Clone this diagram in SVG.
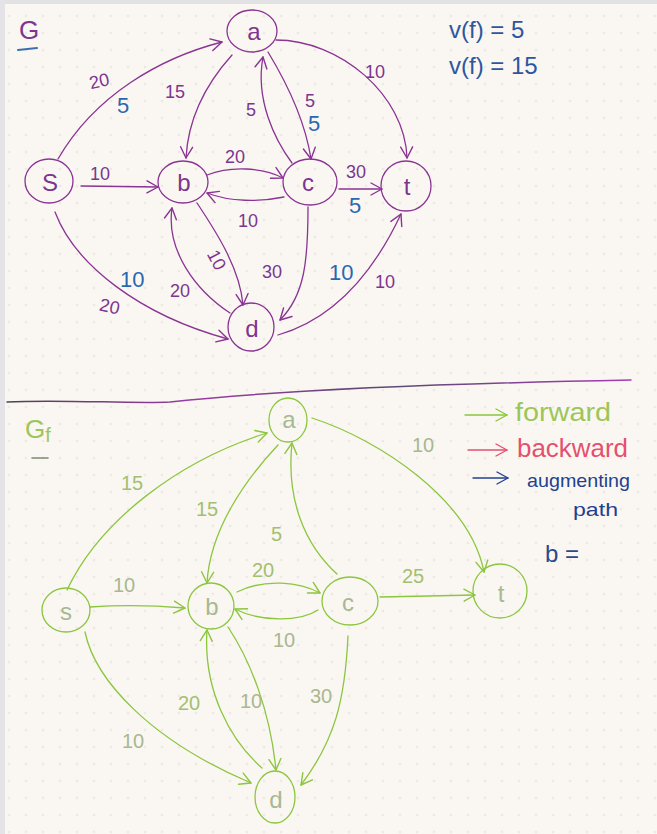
<svg xmlns="http://www.w3.org/2000/svg" width="657" height="834" viewBox="0 0 657 834">
  <defs>
    <pattern id="dots" x="0.5" y="7.5" width="17" height="17" patternUnits="userSpaceOnUse">
      <circle cx="8.5" cy="8.5" r="0.9" fill="#dcd9d4"/>
    </pattern>
    <linearGradient id="rule" x1="0" y1="0" x2="1" y2="0">
      <stop offset="0" stop-color="#4a4450"/>
      <stop offset="0.3" stop-color="#9a3aa6"/>
      <stop offset="0.6" stop-color="#5a4a70"/>
      <stop offset="1" stop-color="#a43ab4"/>
    </linearGradient>
    <marker id="arrP" markerUnits="userSpaceOnUse" markerWidth="16" markerHeight="16" refX="12" refY="7" orient="auto" overflow="visible">
      <path d="M1,1 L12,7 L1,13" fill="none" stroke="#8a3494" stroke-width="1.4" stroke-linecap="round" stroke-linejoin="round"/>
    </marker>
    <marker id="arrG" markerUnits="userSpaceOnUse" markerWidth="16" markerHeight="16" refX="12" refY="7" orient="auto" overflow="visible">
      <path d="M1,1 L12,7 L1,13" fill="none" stroke="#8cc63f" stroke-width="1.4" stroke-linecap="round" stroke-linejoin="round"/>
    </marker>
    <marker id="arrR" markerUnits="userSpaceOnUse" markerWidth="16" markerHeight="16" refX="12" refY="7" orient="auto" overflow="visible">
      <path d="M1,1 L12,7 L1,13" fill="none" stroke="#e4506e" stroke-width="1.4" stroke-linecap="round" stroke-linejoin="round"/>
    </marker>
    <marker id="arrB" markerUnits="userSpaceOnUse" markerWidth="16" markerHeight="16" refX="12" refY="7" orient="auto" overflow="visible">
      <path d="M1,1 L12,7 L1,13" fill="none" stroke="#22418e" stroke-width="1.4" stroke-linecap="round" stroke-linejoin="round"/>
    </marker>
  </defs>
  <style>
    .ink { fill: none; stroke-linecap: round; stroke-linejoin: round; }
    .p { stroke: #8a3494; stroke-width: 1.3; }
    .g { stroke: #8cc63f; stroke-width: 1.3; }
    .pa { marker-end: url(#arrP); }
    .ga { marker-end: url(#arrG); }
    text { font-family: "Liberation Sans", Arial, sans-serif; }
    .nl { font-size: 24px; text-anchor: middle; dominant-baseline: central; }
    .lp { fill: #7d3590; font-size: 18px; }
    .lb { fill: #2a67b0; font-size: 22px; }
    .lg { fill: #a3bf72; font-size: 20px; }
    .np { fill: #7d3590; }
    .ng { fill: #a8b890; }
  </style>

  <!-- paper -->
  <rect x="0" y="0" width="657" height="834" fill="#faf7f2"/>
  <rect x="0" y="0" width="657" height="834" fill="url(#dots)"/>
  <rect x="0" y="0" width="657" height="4" fill="#e2e2e4"/>
  <rect x="0" y="0" width="5" height="834" fill="#e4e4e8"/>

  <!-- flow network G -->
  <text x="19" y="39" fill="#7d3590" font-size="26">G</text>
  <path class="ink" d="M18 50 L37 48" stroke="#3d6fb0" stroke-width="2"/>
  <text x="449" y="38" fill="#2d56a0" font-size="24">v(f) = 5</text>
  <text x="449" y="74" fill="#2d56a0" font-size="24">v(f) = 15</text>

  <g id="connectors-g">
    <path class="ink p pa" d="M58 159 C 95 95, 160 58, 222 42"/>
    <path class="ink p pa" d="M276 40 C 340 40, 405 95, 407 158"/>
    <path class="ink p pa" d="M232 55 C 205 85, 188 120, 186 158"/>
    <path class="ink p pa" d="M268 52 C 285 80, 305 120, 311 159"/>
    <path class="ink p pa" d="M292 163 C 275 140, 255 100, 263 57"/>
    <path class="ink p pa" d="M81 186 L158 187"/>
    <path class="ink p pa" d="M207 175 C 230 166, 262 167, 283 178"/>
    <path class="ink p pa" d="M284 197 C 260 202, 230 202, 207 193"/>
    <path class="ink p pa" d="M339 189 L382 189"/>
    <path class="ink p pa" d="M197 203 C 215 230, 240 268, 243 305"/>
    <path class="ink p pa" d="M230 313 C 195 290, 166 250, 172 208"/>
    <path class="ink p pa" d="M308 207 C 308 260, 305 295, 280 320"/>
    <path class="ink p pa" d="M55 212 C 75 265, 140 315, 228 339"/>
    <path class="ink p pa" d="M278 335 C 330 320, 370 280, 401 214"/>
    <!-- capacities and flows -->
    <text class="lp" x="89" y="87" font-size="20" transform="rotate(-12 100 80)">20</text>
    <text class="lb" x="117" y="113">5</text>
    <text class="lp" x="165" y="98">15</text>
    <text class="lp" x="246" y="116" font-size="20">5</text>
    <text class="lp" x="305" y="107" font-size="20">5</text>
    <text class="lb" x="308" y="131" font-size="21">5</text>
    <text class="lp" x="365" y="78">10</text>
    <text class="lp" x="90" y="180">10</text>
    <text class="lp" x="225" y="163">20</text>
    <text class="lp" x="346" y="178" font-size="17">30</text>
    <text class="lb" x="349" y="213">5</text>
    <text class="lp" x="238" y="227" font-size="16">10</text>
    <text class="lp" x="204" y="262" font-size="16" transform="rotate(62 212 260)">10</text>
    <text class="lp" x="170" y="297" font-size="18">20</text>
    <text class="lp" x="262" y="278" font-size="18">30</text>
    <text class="lb" x="120" y="287" font-size="24">10</text>
    <text class="lp" x="100" y="313" font-size="20" transform="rotate(12 112 305)">20</text>
    <text class="lb" x="329" y="280" font-size="23">10</text>
    <text class="lp" x="375" y="288" font-size="16">10</text>
  </g>

  <g id="g-a"><ellipse class="ink p" cx="252" cy="31" rx="25" ry="21"/><text class="nl np" x="254" y="31">a</text></g>
  <g id="g-s"><ellipse class="ink p" cx="49" cy="181" rx="24" ry="22"/><text class="nl np" x="50" y="182">S</text></g>
  <g id="g-b"><ellipse class="ink p" cx="183" cy="182" rx="25" ry="21"/><text class="nl np" x="184" y="182">b</text></g>
  <g id="g-c"><ellipse class="ink p" cx="310" cy="182" rx="27" ry="23"/><text class="nl np" x="308" y="182">c</text></g>
  <g id="g-t"><ellipse class="ink p" cx="406" cy="186" rx="25" ry="25"/><text class="nl np" x="407" y="186">t</text></g>
  <g id="g-d"><ellipse class="ink p" cx="251" cy="327" rx="23" ry="24"/><text class="nl np" x="252" y="328">d</text></g>

  <!-- divider -->
  <path class="ink" d="M7 402 C 60 399, 130 404, 170 402 C 260 392, 420 384, 631 380" stroke="url(#rule)" stroke-width="1.5"/>

  <!-- residual graph Gf -->
  <text x="25" y="438" fill="#9cc65a" font-size="26">G<tspan font-size="20" dy="4">f</tspan></text>
  <path class="ink" d="M32 458 L48 458" stroke="#7f8a70" stroke-width="1.6"/>

  <g id="legend">
    <path class="ink" d="M465 415 L507 415" stroke="#8cc63f" stroke-width="1.4" marker-end="url(#arrG)"/>
    <text x="515" y="421" fill="#9cc65a" font-size="25" textLength="96" lengthAdjust="spacingAndGlyphs">forward</text>
    <path class="ink" d="M468 450 L507 450" stroke="#e4506e" stroke-width="1.4" marker-end="url(#arrR)"/>
    <text x="517" y="457" fill="#e4506e" font-size="25" textLength="111" lengthAdjust="spacingAndGlyphs">backward</text>
    <path class="ink" d="M473 478 L508 478" stroke="#22418e" stroke-width="1.4" marker-end="url(#arrB)"/>
    <text x="527" y="487" fill="#22418e" font-size="19" textLength="103" lengthAdjust="spacingAndGlyphs">augmenting</text>
    <text x="573" y="516" fill="#22418e" font-size="19" textLength="45" lengthAdjust="spacingAndGlyphs">path</text>
    <text x="545" y="562" fill="#2c4a8a" font-size="24">b =</text>
  </g>

  <g id="connectors-gf">
    <path class="ink g ga" d="M67 590 C 100 520, 180 460, 267 433"/>
    <path class="ink g ga" d="M312 418 C 380 440, 470 500, 484 572"/>
    <path class="ink g ga" d="M278 445 C 245 480, 210 530, 207 583"/>
    <path class="ink g ga" d="M337 574 C 305 545, 286 500, 292 443"/>
    <path class="ink g ga" d="M90 607 C 120 605, 160 606, 185 608"/>
    <path class="ink g ga" d="M237 592 C 265 578, 300 582, 320 593"/>
    <path class="ink g ga" d="M318 610 C 300 622, 260 622, 235 609"/>
    <path class="ink g ga" d="M380 597 L475 595"/>
    <path class="ink g ga" d="M228 627 C 250 660, 270 710, 276 770"/>
    <path class="ink g ga" d="M262 768 C 230 740, 203 690, 207 630"/>
    <path class="ink g ga" d="M348 636 C 345 700, 335 740, 301 785"/>
    <path class="ink g ga" d="M85 632 C 95 680, 150 740, 251 783"/>
    <!-- residual capacities -->
    <text class="lg" x="121" y="490" font-size="22">15</text>
    <text class="lg" x="196" y="516" font-size="22">15</text>
    <text class="lg" x="271" y="541" font-size="26">5</text>
    <text class="lg ng" x="412" y="452">10</text>
    <text class="lg" x="252" y="577">20</text>
    <text class="lg ng" x="113" y="592">10</text>
    <text class="lg" x="402" y="583">25</text>
    <text class="lg ng" x="273" y="647">10</text>
    <text class="lg" x="178" y="710" font-size="21">20</text>
    <text class="lg ng" x="240" y="708">10</text>
    <text class="lg ng" x="310" y="703" font-size="22">30</text>
    <text class="lg ng" x="122" y="748">10</text>
  </g>

  <g id="gf-a"><ellipse class="ink g" cx="288" cy="420" rx="19" ry="22"/><text class="nl ng" x="289" y="419">a</text></g>
  <g id="gf-s"><ellipse class="ink g" cx="66" cy="610" rx="24" ry="22"/><text class="nl ng" x="66" y="611">s</text></g>
  <g id="gf-b"><ellipse class="ink g" cx="211" cy="606" rx="23" ry="23"/><text class="nl ng" x="212" y="606">b</text></g>
  <g id="gf-c"><ellipse class="ink g" cx="350" cy="601" rx="28" ry="24"/><text class="nl ng" x="348" y="602">c</text></g>
  <g id="gf-t"><ellipse class="ink g" cx="500" cy="591" rx="27" ry="27"/><text class="nl ng" x="501" y="593">t</text></g>
  <g id="gf-d"><ellipse class="ink g" cx="275" cy="797" rx="20" ry="26"/><text class="nl ng" x="276" y="799">d</text></g>
</svg>
